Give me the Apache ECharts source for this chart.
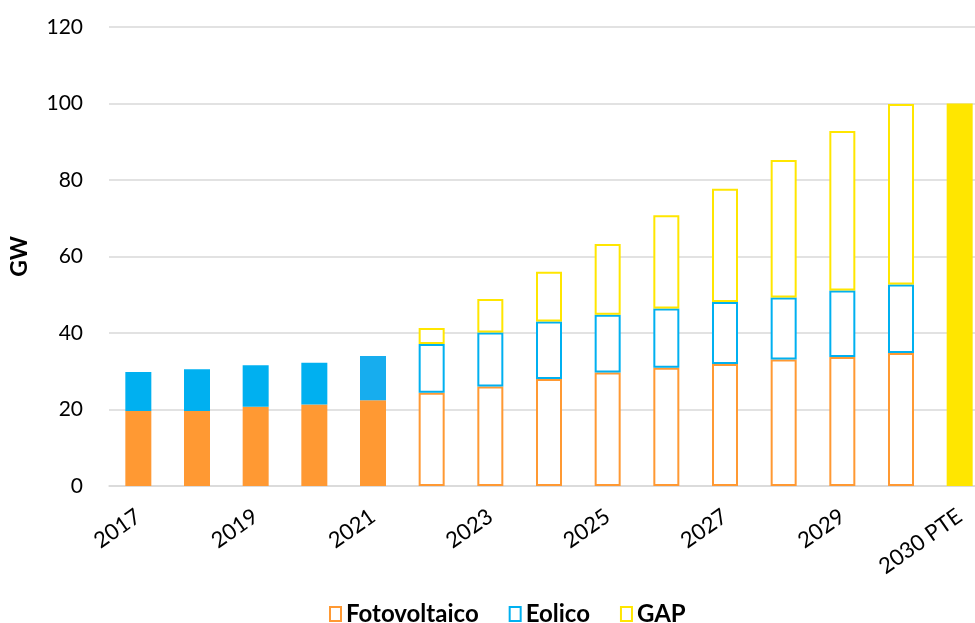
<!DOCTYPE html>
<html>
<head>
<meta charset="utf-8">
<script src="https://cdn.jsdelivr.net/npm/echarts@6.0.0/dist/echarts.min.js"></script>
<style>
  html, body { margin: 0; padding: 0; background: #fff; overflow: hidden; }
  /* il grafico originale è tagliato a destra: canvas un po' più largo della finestra */
  #chart { width: 989px; height: 623px; }
</style>
</head>
<body>
<div id="chart"></div>
<script>
// categorie (anni)
var years = ["2017", "2018", "2019", "2020", "2021", "2022", "2023", "2024",
  "2025", "2026", "2027", "2028", "2029", "2030", "2030 PTE"];

// GW per fonte
var fotovoltaico = [19.6, 19.6, 20.7, 21.3, 22.4, 24.4, 26.0, 28.0, 29.7, 30.9, 31.9, 33.1, 33.7, 34.8, null];
var eolico = [10.2, 10.9, 10.9, 10.9, 11.6, 12.7, 14.1, 15.0, 15.1, 15.5, 16.2, 16.2, 17.4, 17.9, null];
var gap = [null, null, null, null, null, 4.2, 8.8, 13.0, 18.5, 24.4, 29.6, 35.9, 41.7, 47.2, 100];

var yTicks = [0, 20, 40, 60, 80, 100, 120];

var ORANGE = "#FF9933";
var BLUE = "#00B0F0";
var YELLOW = "#FFE600";
var FIRST_HOLLOW = 5; // dal 2022 le barre sono vuote

function makeItems(values, color, filledLast, altColors) {
  return values.map(function (v, i) {
    if (v == null) return "-";
    var hollow = i >= FIRST_HOLLOW && !(filledLast && i === values.length - 1);
    if (hollow) {
      return { value: v, itemStyle: { color: "#fff", borderColor: color, borderWidth: 2 } };
    }
    var c = (altColors && altColors[i]) || color;
    return { value: v, itemStyle: { color: c, borderWidth: 0 } };
  });
}

var myChart = echarts.init(document.getElementById("chart"));

var option = {
  animation: false,
  backgroundColor: "#fff",
  grid: {
    left: 109,
    right: 0,
    top: 27,
    bottom: 137,
  },
  legend: {
    left: 324,
    top: 597,
    itemWidth: 11,
    itemHeight: 14,
    itemGap: 30,
    textStyle: {
      fontFamily: "Lato",
      fontWeight: "bold",
      fontSize: 24,
      color: "#000",
    },
    data: [
      { name: "Fotovoltaico", icon: "rect", itemStyle: { color: "#fff", borderColor: ORANGE, borderWidth: 2 } },
      { name: "Eolico", icon: "rect", itemStyle: { color: "#fff", borderColor: BLUE, borderWidth: 2 } },
      { name: "GAP", icon: "rect", itemStyle: { color: "#fff", borderColor: YELLOW, borderWidth: 2 } },
    ],
  },
  xAxis: {
    type: "category",
    data: years,
    axisTick: { show: false },
    axisLine: {
      lineStyle: { color: "#d9d9d9", width: 1.5 },
    },
    axisLabel: {
      interval: 1,
      rotate: 35,
      margin: 28,
      fontFamily: "Lato",
      fontSize: 22,
      color: "#000",
    },
  },
  yAxis: {
    type: "value",
    min: yTicks[0],
    max: yTicks[yTicks.length - 1],
    interval: 20,
    name: "GW",
    nameLocation: "middle",
    nameGap: 78,
    nameRotate: 90,
    nameTextStyle: {
      fontFamily: "Lato",
      fontWeight: "bold",
      fontSize: 23,
      color: "#000",
    },
    axisLine: { show: false },
    axisTick: { show: false },
    axisLabel: {
      margin: 26,
      fontFamily: "Lato",
      fontSize: 21,
      color: "#000",
    },
    splitLine: {
      show: true,
      lineStyle: { color: "#d9d9d9", width: 1.5, type: "solid" },
    },
  },
  series: [
    {
      name: "Fotovoltaico",
      type: "bar",
      stack: "tot",
      barWidth: 26,
      color: ORANGE,
      data: makeItems(fotovoltaico, ORANGE),
    },
    {
      name: "Eolico",
      type: "bar",
      stack: "tot",
      barWidth: 26,
      color: BLUE,
      data: makeItems(eolico, BLUE, false, { 4: "#17ADEE" }),
    },
    {
      name: "GAP",
      type: "bar",
      stack: "tot",
      barWidth: 26,
      color: YELLOW,
      data: makeItems(gap, YELLOW, true),
    },
  ],
};

myChart.setOption(option);
</script>
</body>
</html>
